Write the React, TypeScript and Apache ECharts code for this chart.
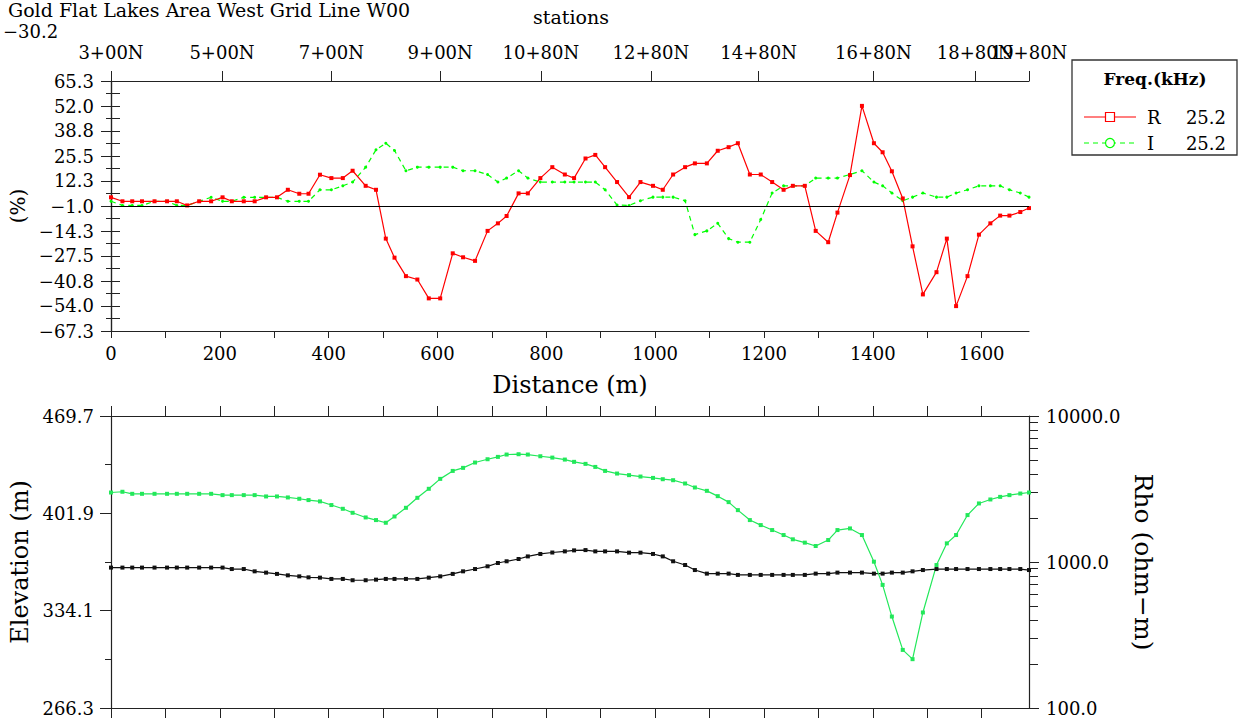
import { useEffect, useRef } from 'react';
import * as echarts from 'echarts';

// Station chainage labels along the top of the profile and their distances (m)
const stationNames = ['3+00N', '5+00N', '7+00N', '9+00N', '10+80N', '12+80N', '14+80N', '16+80N', '18+80N', '19+80N'];
const stationDist = [0, 204, 405, 605, 790, 992, 1190, 1401, 1588, 1687];

// Distance of each reading along the line (m)
const distance = [
  0, 21, 39, 57, 80, 103, 121, 140, 162, 184,
  205, 222, 244, 264, 285, 305, 325, 346, 363, 384,
  405, 426, 444, 468, 487, 505, 521, 542, 563, 584,
  605, 628, 647, 669, 692, 711, 727, 749, 766, 789,
  811, 834, 851, 872, 890, 908, 930, 952, 973, 996,
  1014, 1033, 1055, 1073, 1095, 1115, 1135, 1152, 1174, 1194,
  1215, 1236, 1253, 1275, 1295, 1318, 1335, 1358, 1380, 1402,
  1418, 1435, 1455, 1473, 1492, 1517, 1536, 1553, 1574, 1595,
  1616, 1634, 1651, 1671, 1687,
];

// In-phase (R) and quadrature (I) response at 25.2 kHz (%)
const rValues = [
  3.6, 1.5, 1.5, 1.5, 1.5, 1.5, 1.5, -0.7, 1.5, 1.5,
  3.6, 1.5, 1.5, 1.5, 3.6, 3.6, 7.6, 5.5, 5.5, 15.6,
  13.8, 13.8, 17.7, 9.7, 7.6, -18.3, -28.4, -38.2, -40.0, -50.0,
  -50.0, -26.1, -28.2, -30.1, -14.2, -10.2, -6.3, 5.7, 5.7, 13.8,
  19.6, 15.7, 13.8, 24.2, 26.1, 19.6, 11.7, 3.7, 11.7, 9.7,
  7.6, 15.7, 19.6, 21.6, 21.6, 28.3, 30.2, 32.3, 15.7, 15.7,
  11.7, 7.6, 9.7, 9.7, -14.2, -20.2, -4.5, 15.4, 52.1, 32.3,
  27.5, 17.4, 3.0, -22.4, -47.9, -36.1, -18.3, -54.1, -38.2, -16.2,
  -10.2, -6.1, -6.1, -4.2, -2.1,
];
const iValues = [
  1.5, -0.7, -0.7, -0.7, 1.5, 1.5, -0.7, -0.7, 1.5, 3.6,
  1.5, 1.5, 3.6, 3.6, 3.6, 3.6, 1.5, 1.5, 1.5, 7.6,
  7.6, 9.7, 11.7, 19.6, 28.8, 32.3, 28.4, 17.7, 19.6, 19.6,
  19.6, 19.6, 17.7, 17.7, 15.7, 11.7, 13.8, 17.7, 13.8, 11.7,
  11.7, 11.7, 11.7, 11.7, 11.7, 7.6, -0.5, -0.7, 1.8, 3.7,
  3.7, 3.7, 1.8, -16.2, -14.2, -10.2, -18.3, -20.2, -20.2, -8.2,
  5.9, 9.7, 9.7, 9.7, 13.8, 13.8, 13.8, 15.7, 17.7, 11.7,
  9.7, 5.9, 1.8, 3.7, 5.9, 3.7, 3.7, 5.9, 7.6, 9.7,
  9.7, 9.7, 7.6, 5.9, 3.7,
];

// Ground elevation (m) and apparent resistivity (ohm-m)
const elevation = [
  364.1, 364.1, 364.1, 364.1, 364.1, 364.1, 364.1, 364.1, 364.1, 364.1,
  364.1, 363.1, 363.1, 361.5, 360.6, 359.7, 358.7, 358.0, 357.3, 357.1,
  356.2, 356.2, 355.3, 355.3, 355.7, 356.2, 356.2, 356.2, 356.2, 357.1,
  358.0, 359.7, 361.5, 363.1, 365.0, 367.3, 368.5, 370.1, 371.9, 373.6,
  374.6, 375.4, 376.1, 376.3, 375.4, 375.4, 375.4, 374.5, 374.5, 373.6,
  371.9, 368.5, 365.9, 362.4, 359.9, 359.9, 359.9, 359.0, 359.0, 359.0,
  359.0, 359.0, 359.0, 359.0, 359.9, 359.9, 360.6, 360.6, 360.6, 359.9,
  359.9, 360.6, 360.6, 361.5, 362.4, 363.1, 363.1, 363.1, 363.1, 363.1,
  363.1, 363.1, 363.1, 363.1, 362.4,
];
const rho = [
  2992, 3027, 2931, 2931, 2931, 2931, 2931, 2931, 2931, 2931,
  2871, 2871, 2871, 2871, 2812, 2812, 2768, 2711, 2655, 2601,
  2455, 2314, 2173, 2019, 1937, 1857, 2050, 2351, 2752, 3172,
  3710, 4206, 4413, 4800, 5057, 5248, 5445, 5473, 5445, 5300,
  5190, 5030, 4853, 4700, 4480, 4206, 4035, 3935, 3849, 3767,
  3690, 3633, 3449, 3238, 3072, 2825, 2571, 2266, 1937, 1790,
  1655, 1530, 1430, 1357, 1287, 1414, 1655, 1698, 1530, 1005,
  697, 423, 250, 216, 451, 953, 1342, 1530, 2096, 2518,
  2681, 2793, 2871, 2944, 2992,
];

// Axis tick values
const distTicks = [0, 100, 200, 300, 400, 500, 600, 700, 800, 900, 1000, 1100, 1200, 1300, 1400, 1500, 1600];
const distLabels = [0, 200, 400, 600, 800, 1000, 1200, 1400, 1600];
const pctTicks = [-67.3, -54.0, -40.8, -27.5, -14.3, -1.0, 12.3, 25.5, 38.8, 52.0, 65.3];
const pctMinor = [-60.7, -47.4, -34.1, -20.9, -7.6, 5.6, 18.9, 32.2, 45.4, 58.7];
const elevTicks = [266.3, 334.1, 401.9, 469.7];
const elevMinor = [300.2, 368.0, 435.8];
const rhoMinor = [200, 300, 400, 500, 600, 700, 800, 900, 2000, 3000, 4000, 5000, 6000, 7000, 8000, 9000];

const FONT = 'DejaVu Serif';
const AXIS = '#222';
const RED = '#ff0000';
const GREEN = '#00ff00';
const RHO_GREEN = '#22e85a';

const fmt = (v: number) => (v < 0 ? '\u2212' : '') + Math.abs(v).toFixed(1);
const zip = (xs: number[], ys: number[]) => xs.map((x, i) => [x, ys[i]]);
const stationName = (v: number) => stationNames[stationDist.indexOf(v)] ?? '';

const tickLabel = { fontFamily: FONT, fontSize: 18, color: '#000' };

function xAxisFor(grid: number, position: 'top' | 'bottom', extra: any = {}) {
  return {
    type: 'value',
    gridIndex: grid,
    position,
    min: 0,
    max: 1687,
    axisLine: { show: true, onZero: false, lineStyle: { color: AXIS, width: 1.2 } },
    axisTick: { show: true, customValues: distTicks, length: 9, lineStyle: { color: AXIS } },
    axisLabel: { show: false },
    splitLine: { show: false },
    ...extra,
  };
}

export default function App() {
  const ref = useRef<HTMLDivElement>(null);

  useEffect(() => {
    if (!ref.current) return;
    const chart = echarts.init(ref.current, undefined, { renderer: 'svg' });

    const option: any = {
      animation: false,
      backgroundColor: '#fff',
      grid: [
        { left: 111, top: 81, width: 918, height: 250, outerBoundsMode: 'none' },
        { left: 111, top: 416, width: 918, height: 292, outerBoundsMode: 'none' },
      ],
      xAxis: [
        xAxisFor(0, 'bottom', {
          axisTick: { show: true, customValues: distTicks, length: 7, lineStyle: { color: AXIS } },
          axisLabel: { show: true, customValues: distLabels, margin: 13, formatter: (v: number) => String(v), ...tickLabel },
          name: 'Distance (m)',
          nameLocation: 'middle',
          nameGap: 42,
          nameTextStyle: { fontFamily: FONT, fontSize: 24, color: '#000' },
        }),
        xAxisFor(0, 'top', {
          axisTick: { show: true, customValues: stationDist, length: 10, lineStyle: { color: AXIS } },
          axisLabel: {
            show: true,
            customValues: stationDist.slice(0, -1),
            margin: 20,
            showMinLabel: true,
            showMaxLabel: true,
            formatter: stationName,
            ...tickLabel,
          },
        }),
        xAxisFor(1, 'bottom', { axisTick: { show: true, customValues: distTicks, length: 10, lineStyle: { color: AXIS } } }),
        xAxisFor(1, 'top', { axisTick: { show: true, customValues: distTicks, length: 10, lineStyle: { color: AXIS } } }),
        // end-of-line station label, kept on its own axis so it may overlap its neighbour
        xAxisFor(0, 'top', {
          axisLine: { show: false },
          axisTick: { show: false },
          axisLabel: {
            show: true,
            customValues: stationDist.slice(-1),
            margin: 20,
            showMinLabel: true,
            showMaxLabel: true,
            formatter: stationName,
            ...tickLabel,
          },
        }),
      ],
      yAxis: [
        {
          type: 'value',
          gridIndex: 0,
          position: 'left',
          min: -67.3,
          max: 65.3,
          axisLine: { show: true, lineStyle: { color: AXIS, width: 1.2 } },
          axisTick: { show: true, customValues: pctTicks, length: 10, lineStyle: { color: AXIS } },
          axisLabel: { show: true, customValues: pctTicks, formatter: fmt, margin: 17, showMinLabel: true, showMaxLabel: true, ...tickLabel },
          splitLine: { show: false },
          name: '(%)',
          nameLocation: 'middle',
          nameRotate: 90,
          nameGap: 78,
          nameTextStyle: { fontFamily: FONT, fontSize: 20, color: '#000' },
        },
        {
          type: 'value',
          gridIndex: 0,
          position: 'left',
          min: -67.3,
          max: 65.3,
          axisLine: { show: false },
          axisTick: { show: true, customValues: pctMinor, length: 5, lineStyle: { color: AXIS } },
          axisLabel: { show: false },
          splitLine: { show: false },
        },
        {
          type: 'value',
          gridIndex: 0,
          position: 'right',
          min: -67.3,
          max: 65.3,
          axisLine: { show: true, lineStyle: { color: AXIS, width: 1.2 } },
          axisTick: { show: true, customValues: [...pctTicks, ...pctMinor], length: 9, lineStyle: { color: AXIS } },
          axisLabel: { show: false },
          splitLine: { show: false },
        },
        {
          type: 'value',
          gridIndex: 1,
          position: 'left',
          min: 266.3,
          max: 469.7,
          axisLine: { show: true, lineStyle: { color: AXIS, width: 1.2 } },
          axisTick: { show: true, customValues: elevTicks, length: 11, lineStyle: { color: AXIS } },
          axisLabel: { show: true, customValues: elevTicks, formatter: fmt, margin: 17, showMinLabel: true, showMaxLabel: true, ...tickLabel },
          splitLine: { show: false },
          name: 'Elevation (m)',
          nameLocation: 'middle',
          nameRotate: 90,
          nameGap: 68,
          nameTextStyle: { fontFamily: FONT, fontSize: 24, color: '#000' },
        },
        {
          type: 'value',
          gridIndex: 1,
          position: 'left',
          min: 266.3,
          max: 469.7,
          axisLine: { show: false },
          axisTick: { show: true, customValues: elevMinor, length: 6, lineStyle: { color: AXIS } },
          axisLabel: { show: false },
          splitLine: { show: false },
        },
        {
          type: 'log',
          logBase: 10,
          gridIndex: 1,
          position: 'right',
          min: 100,
          max: 10000,
          axisLine: { show: true, lineStyle: { color: AXIS, width: 1.2 } },
          axisTick: { show: true, length: 10, lineStyle: { color: AXIS } },
          axisLabel: { show: true, formatter: (v: number) => v.toFixed(1), margin: 17, showMinLabel: true, showMaxLabel: true, ...tickLabel },
          splitLine: { show: false },
          name: 'Rho (ohm\u2212m)',
          nameLocation: 'middle',
          nameRotate: -90,
          nameGap: 92,
          nameTextStyle: { fontFamily: FONT, fontSize: 25, color: '#000' },
        },
        {
          // decade subdivisions of the resistivity scale, on the log10 scale
          type: 'value',
          gridIndex: 1,
          position: 'right',
          min: 2,
          max: 4,
          axisLine: { show: false },
          axisTick: { show: true, customValues: rhoMinor.map((v) => Math.log10(v)), length: 9, lineStyle: { color: AXIS } },
          axisLabel: { show: false },
          splitLine: { show: false },
        },
      ],
      series: [
        {
          name: 'R',
          type: 'line',
          xAxisIndex: 0,
          yAxisIndex: 0,
          data: zip(distance, rValues),
          symbol: 'rect',
          symbolSize: 4,
          itemStyle: { color: RED },
          lineStyle: { color: RED, width: 1.2 },
          z: 3,
          markLine: {
            silent: true,
            symbol: 'none',
            label: { show: false },
            lineStyle: { color: '#000', width: 1.2, type: 'solid' },
            data: [{ yAxis: -1.0 }],
            z: 4,
          },
        },
        {
          name: 'I',
          type: 'line',
          xAxisIndex: 0,
          yAxisIndex: 0,
          data: zip(distance, iValues),
          symbol: 'circle',
          symbolSize: 3,
          itemStyle: { color: GREEN },
          lineStyle: { color: GREEN, width: 1.2, type: [5, 4] },
          z: 2,
        },
        {
          name: 'Elevation',
          type: 'line',
          xAxisIndex: 2,
          yAxisIndex: 3,
          data: zip(distance, elevation),
          symbol: 'rect',
          symbolSize: 4,
          itemStyle: { color: '#111' },
          lineStyle: { color: '#111', width: 1.2 },
        },
        {
          name: 'Rho',
          type: 'line',
          xAxisIndex: 2,
          yAxisIndex: 5,
          data: zip(distance, rho),
          symbol: 'rect',
          symbolSize: 4,
          itemStyle: { color: RHO_GREEN },
          lineStyle: { color: RHO_GREEN, width: 1.2 },
        },
      ],
      graphic: [
        { type: 'text', x: 8, y: 0, style: { text: 'Gold Flat Lakes Area West Grid Line W00', fontFamily: FONT, fontSize: 19, fill: '#000', verticalAlign: 'top' } },
        { type: 'text', x: 3, y: 31, style: { text: '\u221230.2', fontFamily: FONT, fontSize: 18, fill: '#000', verticalAlign: 'middle' } },
        { type: 'text', x: 571, y: 17, style: { text: 'stations', fontFamily: FONT, fontSize: 19, fill: '#000', align: 'center', verticalAlign: 'middle' } },
        // Legend box
        { type: 'rect', shape: { x: 1072, y: 60, width: 165, height: 95 }, style: { fill: '#fff', stroke: '#333', lineWidth: 1.3 } },
        { type: 'text', x: 1155, y: 79, style: { text: 'Freq.(kHz)', fontFamily: FONT, fontSize: 17, fontWeight: 'bold', fill: '#000', align: 'center', verticalAlign: 'middle' } },
        { type: 'line', shape: { x1: 1084, y1: 117, x2: 1136, y2: 117 }, style: { stroke: RED, lineWidth: 1.2 } },
        { type: 'rect', shape: { x: 1105.5, y: 112.5, width: 9, height: 9 }, style: { fill: '#fff', stroke: RED, lineWidth: 1.2 } },
        { type: 'text', x: 1147, y: 117, style: { text: 'R', fontFamily: FONT, fontSize: 18, fill: '#000', verticalAlign: 'middle' } },
        { type: 'text', x: 1226, y: 117, style: { text: '25.2', fontFamily: FONT, fontSize: 18, fill: '#000', align: 'right', verticalAlign: 'middle' } },
        { type: 'line', shape: { x1: 1084, y1: 143, x2: 1136, y2: 143 }, style: { stroke: GREEN, lineWidth: 1.2, lineDash: [5, 4] } },
        { type: 'circle', shape: { cx: 1110, cy: 143, r: 4.5 }, style: { fill: '#fff', stroke: GREEN, lineWidth: 1.2 } },
        { type: 'text', x: 1147, y: 143, style: { text: 'I', fontFamily: FONT, fontSize: 18, fill: '#000', verticalAlign: 'middle' } },
        { type: 'text', x: 1226, y: 143, style: { text: '25.2', fontFamily: FONT, fontSize: 18, fill: '#000', align: 'right', verticalAlign: 'middle' } },
      ],
    };

    chart.setOption(option);
    return () => chart.dispose();
  }, []);

  return <div ref={ref} style={{ position: 'fixed', left: 0, top: 0, width: 1241, height: 720, background: '#fff' }} />;
}
